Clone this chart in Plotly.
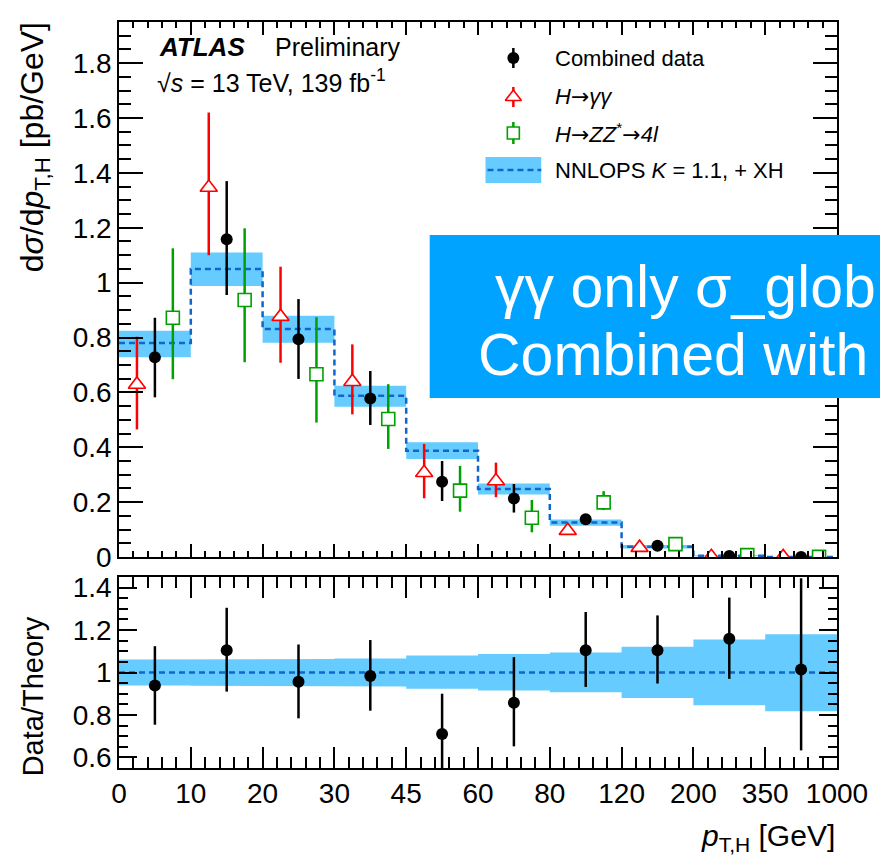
import plotly.graph_objects as go

# ---------------- data ----------------
bin_labels = ["0", "10", "20", "30", "45", "60", "80", "120", "200", "350", "1000"]

theory      = [0.780, 1.050, 0.831, 0.588, 0.387, 0.248, 0.126, 0.0376, 0.0045, 0.0004]
theory_up   = [0.825, 1.110, 0.879, 0.624, 0.418, 0.268, 0.137, 0.044, 0.0065, 0.0008]
theory_dn   = [0.728, 0.988, 0.781, 0.548, 0.357, 0.228, 0.114, 0.031, 0.0030, 0.0002]

comb        = [0.728, 1.158, 0.794, 0.578, 0.274, 0.213, 0.138, 0.041, 0.004, 0.0004]
comb_ep     = [0.144, 0.212, 0.146, 0.100, 0.076, 0.053, 0.015, 0.006, 0.003, 0.0006]
comb_em     = [0.146, 0.203, 0.145, 0.097, 0.070, 0.051, 0.015, 0.006, 0.003, 0.0004]

gg          = [0.629, 1.347, 0.876, 0.639, 0.307, 0.277, 0.096, 0.034, 0.001, 0.0003]
gg_ep       = [0.174, 0.273, 0.182, 0.136, 0.105, 0.067, 0.015, 0.006, 0.003, 0.001]
gg_em       = [0.164, 0.247, 0.168, 0.119, 0.093, 0.059, 0.015, 0.006, 0.001, 0.0003]

zz          = [0.872, 0.937, 0.666, 0.503, 0.242, 0.143, 0.199, 0.047, 0.007, 0.0005]
zz_ep       = [0.253, 0.261, 0.208, 0.127, 0.090, 0.065, 0.041, 0.010, 0.004, 0.002]
zz_em       = [0.224, 0.227, 0.176, 0.109, 0.077, 0.053, 0.028, 0.010, 0.004, 0.0005]

ratio       = [0.939, 1.105, 0.956, 0.983, 0.710, 0.857, 1.105, 1.105, 1.159, 1.014]
ratio_ep    = [0.185, 0.200, 0.176, 0.170, 0.190, 0.215, 0.180, 0.164, 0.194, 0.430]
ratio_em    = [0.185, 0.195, 0.172, 0.163, 0.250, 0.205, 0.173, 0.157, 0.189, 0.381]

ratio_band_up = [1.061, 1.064, 1.064, 1.066, 1.080, 1.087, 1.094, 1.121, 1.156, 1.180]
ratio_band_dn = [0.939, 0.937, 0.937, 0.934, 0.923, 0.915, 0.907, 0.880, 0.846, 0.817]

ARROW = '<span style="font-family:DejaVu Sans">→</span>'
legend_labels = ["Combined data", "<i>H</i>" + ARROW + "<i>γγ</i>",
                 "<i>H</i>" + ARROW + "<i>ZZ</i><sup>*</sup>" + ARROW + "<i>4l</i>",
                 "NNLOPS <i>K</i> = 1.1, + XH"]

# ---------------- styling / layout constants ----------------
W, H = 880, 855
ML, MR, MT, MB = 119, 40, 22, 87
X0, X1 = ML, W - MR
YT, YB = MT, H - MB
UP_BOT, LO_TOP = 557, 577
FONT = "Liberation Sans, Arial, Helvetica, sans-serif"
BAND = "#66CCFF"
LINE = "#1166CC"
RED = "#FF0000"
GREEN = "#00A000"
BOX = "#00A3FF"

def pxx(x):
    return (x - X0) / (X1 - X0)

def pyy(y):
    return (YB - y) / (YB - YT)

nb = len(theory)
centers = [i + 0.5 for i in range(nb)]
x_gg = [i + 0.25 for i in range(nb)]
x_zz = [i + 0.75 for i in range(nb)]

def band_poly(up, dn):
    xs, ys = [], []
    for i in range(len(up)):
        xs += [i, i + 1]
        ys += [up[i], up[i]]
    for i in reversed(range(len(dn))):
        xs += [i + 1, i]
        ys += [dn[i], dn[i]]
    return xs, ys

fig = go.Figure()

# upper panel
bx, by = band_poly(theory_up, theory_dn)
fig.add_trace(go.Scatter(x=bx, y=by, fill="toself", fillcolor=BAND, mode="lines",
                         line=dict(width=0), xaxis="x", yaxis="y", hoverinfo="skip"))
fig.add_trace(go.Scatter(x=list(range(nb + 1)), y=theory + [theory[-1]], mode="lines",
                         line=dict(color=LINE, width=2.5, dash="6px,4px", shape="hv"),
                         xaxis="x", yaxis="y"))
fig.add_trace(go.Scatter(x=x_gg, y=gg, mode="markers", xaxis="x", yaxis="y",
                         marker=dict(symbol="triangle-up", size=15, color="white",
                                     line=dict(color=RED, width=1.6)),
                         error_y=dict(type="data", array=gg_ep, arrayminus=gg_em,
                                      color=RED, thickness=2.5, width=0)))
fig.add_trace(go.Scatter(x=x_zz, y=zz, mode="markers", xaxis="x", yaxis="y",
                         marker=dict(symbol="square", size=13, color="white",
                                     line=dict(color=GREEN, width=1.6)),
                         error_y=dict(type="data", array=zz_ep, arrayminus=zz_em,
                                      color=GREEN, thickness=2.5, width=0)))
fig.add_trace(go.Scatter(x=centers, y=comb, mode="markers", xaxis="x", yaxis="y",
                         marker=dict(symbol="circle", size=12, color="black"),
                         error_y=dict(type="data", array=comb_ep, arrayminus=comb_em,
                                      color="black", thickness=2.5, width=0)))

# lower panel
rx, ry = band_poly(ratio_band_up, ratio_band_dn)
fig.add_trace(go.Scatter(x=rx, y=ry, fill="toself", fillcolor=BAND, mode="lines",
                         line=dict(width=0), xaxis="x2", yaxis="y2", hoverinfo="skip"))
fig.add_trace(go.Scatter(x=[0, nb], y=[1, 1], mode="lines",
                         line=dict(color=LINE, width=2.5, dash="6px,4px"),
                         xaxis="x2", yaxis="y2"))
fig.add_trace(go.Scatter(x=centers, y=ratio, mode="markers", xaxis="x2", yaxis="y2",
                         marker=dict(symbol="circle", size=12, color="black"),
                         error_y=dict(type="data", array=ratio_ep, arrayminus=ratio_em,
                                      color="black", thickness=2.5, width=0)))

# legend symbols on a pixel-space overlay axis
LEG_X = 515
LEG_Y = [58, 97, 133, 170]
fig.add_trace(go.Scatter(x=[LEG_X], y=[LEG_Y[0]], mode="markers", xaxis="x3", yaxis="y3",
                         marker=dict(symbol="circle", size=12, color="black"),
                         error_y=dict(type="constant", value=10, color="black", thickness=2.5, width=0)))
fig.add_trace(go.Scatter(x=[LEG_X], y=[LEG_Y[1]], mode="markers", xaxis="x3", yaxis="y3",
                         marker=dict(symbol="triangle-up", size=14, color="white",
                                     line=dict(color=RED, width=1.6)),
                         error_y=dict(type="constant", value=10, color=RED, thickness=2.5, width=0)))
fig.add_trace(go.Scatter(x=[LEG_X], y=[LEG_Y[2]], mode="markers", xaxis="x3", yaxis="y3",
                         marker=dict(symbol="square", size=12, color="white",
                                     line=dict(color=GREEN, width=1.6)),
                         error_y=dict(type="constant", value=11, color=GREEN, thickness=2.5, width=0)))

shapes = [
    dict(type="rect", xref="x3", yref="y3", x0=487, x1=543, y0=LEG_Y[3] - 13, y1=LEG_Y[3] + 13,
         fillcolor=BAND, line=dict(width=0), layer="below"),
    dict(type="line", xref="x3", yref="y3", x0=489, x1=543, y0=LEG_Y[3], y1=LEG_Y[3],
         line=dict(color=LINE, width=2.5, dash="6px,4px")),
    dict(type="rect", xref="paper", yref="paper", x0=pxx(431), x1=pxx(1000),
         y0=pyy(398), y1=pyy(235), fillcolor=BOX, line=dict(width=0), layer="above"),
]

annotations = []
for yv, lab in zip(LEG_Y, legend_labels):
    annotations.append(dict(xref="paper", yref="paper", x=pxx(555), y=pyy(yv), text=lab,
                            showarrow=False, xanchor="left", yanchor="middle",
                            font=dict(family=FONT, size=22, color="black")))

annotations += [
    dict(xref="paper", yref="paper", x=pxx(157), y=pyy(47), text="<b><i>ATLAS</i></b>",
         showarrow=False, xanchor="left", yanchor="middle",
         font=dict(family=FONT, size=26, color="black")),
    dict(xref="paper", yref="paper", x=pxx(274), y=pyy(47), text="Preliminary",
         showarrow=False, xanchor="left", yanchor="middle",
         font=dict(family=FONT, size=25, color="black")),
    dict(xref="paper", yref="paper", x=pxx(155), y=pyy(81),
         text="√<i>s</i> = 13 TeV, 139 fb<sup>-1</sup>",
         showarrow=False, xanchor="left", yanchor="middle",
         font=dict(family=FONT, size=25, color="black")),
    dict(xref="paper", yref="paper", x=pxx(34), y=pyy(20),
         text="d<i>σ</i>/d<i>p</i><sub>T,H</sub> [pb/GeV]", textangle=-90,
         showarrow=False, xanchor="center", yanchor="top",
         font=dict(family=FONT, size=32, color="black")),
    dict(xref="paper", yref="paper", x=pxx(33), y=pyy(696), text="Data/Theory", textangle=-90,
         showarrow=False, xanchor="center", yanchor="middle",
         font=dict(family=FONT, size=29, color="black")),
    dict(xref="paper", yref="paper", x=pxx(840), y=pyy(837),
         text="<i>p</i><sub>T,H</sub> [GeV]",
         showarrow=False, xanchor="right", yanchor="middle",
         font=dict(family=FONT, size=30, color="black")),
    dict(xref="paper", yref="paper", x=pxx(495), y=pyy(287), text="γγ only σ_glob",
         showarrow=False, xanchor="left", yanchor="middle",
         font=dict(family=FONT, size=59, color="white")),
    dict(xref="paper", yref="paper", x=pxx(477), y=pyy(355), text="Combined with",
         showarrow=False, xanchor="left", yanchor="middle",
         font=dict(family=FONT, size=59, color="white")),
]

dom_up = [(YB - UP_BOT) / (YB - YT), 1.0]
dom_lo = [0.0, (YB - LO_TOP) / (YB - YT)]

axis_common = dict(showline=True, linecolor="black", linewidth=1.5, mirror="ticks",
                   ticks="inside", tickcolor="black", tickwidth=1.5, showgrid=False,
                   zeroline=False, tickfont=dict(family=FONT, size=28, color="black"))

up_y_vals = [0, 0.2, 0.4, 0.6, 0.8, 1.0, 1.2, 1.4, 1.6, 1.8]
up_y_text = ["0", "0.2", "0.4", "0.6", "0.8", "1", "1.2", "1.4", "1.6", "1.8"]
lo_y_vals = [0.6, 0.8, 1.0, 1.2, 1.4]
lo_y_text = ["0.6", "0.8", "1", "1.2", "1.4"]

fig.update_layout(
    width=W, height=H,
    margin=dict(l=ML, r=MR, t=MT, b=MB),
    paper_bgcolor="white", plot_bgcolor="rgba(0,0,0,0)",
    showlegend=False,
    xaxis=dict(axis_common, domain=[0, 1], anchor="y", range=[0, nb],
               tickmode="array", tickvals=list(range(nb + 1)), ticktext=bin_labels,
               showticklabels=False, ticklen=13,
               minor=dict(tickmode="linear", tick0=0, dtick=0.2, ticklen=6, ticks="inside",
                          tickcolor="black", tickwidth=1.5, showgrid=False)),
    yaxis=dict(axis_common, domain=dom_up, anchor="x", range=[0, 1.95],
               tickmode="array", tickvals=up_y_vals, ticktext=up_y_text, ticklen=24,
               minor=dict(tickmode="linear", tick0=0, dtick=0.05, ticklen=12, ticks="inside",
                          tickcolor="black", tickwidth=1.5, showgrid=False)),
    xaxis2=dict(axis_common, domain=[0, 1], anchor="y2", range=[0, nb],
                tickmode="array", tickvals=list(range(nb + 1)), ticktext=bin_labels,
                ticklen=21,
                minor=dict(tickmode="linear", tick0=0, dtick=0.2, ticklen=11, ticks="inside",
                           tickcolor="black", tickwidth=1.5, showgrid=False)),
    yaxis2=dict(axis_common, domain=dom_lo, anchor="x2", range=[0.55, 1.45],
                tickmode="array", tickvals=lo_y_vals, ticktext=lo_y_text, ticklen=18,
                minor=dict(tickmode="linear", tick0=0, dtick=0.05, ticklen=9, ticks="inside",
                           tickcolor="black", tickwidth=1.5, showgrid=False)),
    xaxis3=dict(domain=[0, 1], anchor="y3", range=[X0, X1], visible=False, fixedrange=True),
    yaxis3=dict(domain=[0, 1], anchor="x3", range=[YB, YT], visible=False, fixedrange=True),
    shapes=shapes,
    annotations=annotations,
)

fig.write_html("out.html")
